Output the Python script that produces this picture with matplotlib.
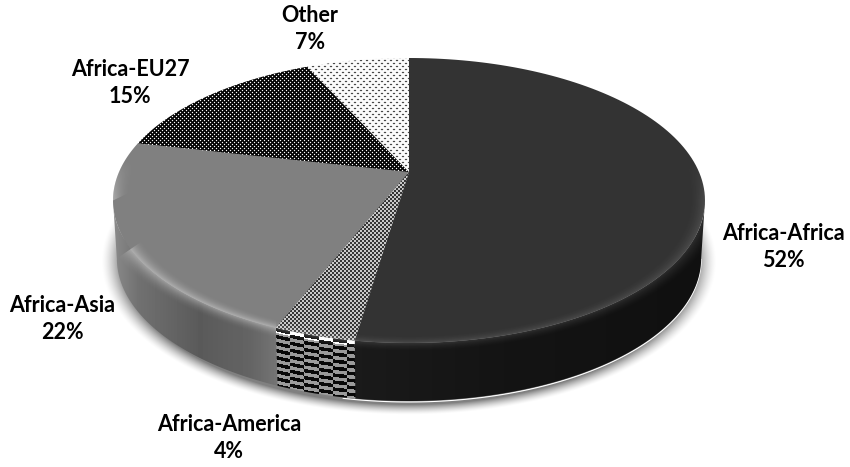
import numpy as np
import matplotlib
matplotlib.use('Agg')
import matplotlib.pyplot as plt
from matplotlib.patches import Polygon

labels = ['Africa-Africa', 'Africa-America', 'Africa-Asia', 'Africa-EU27', 'Other']
percent_labels = [52, 4, 22, 15, 7]
shares = [52.4, 3.7, 22.4, 14.7, 6.8]  # round to the labels
label_x = [783, 229, 62, 130, 310]
label_y = [247, 438, 319, 83, 29]

W, H = 850, 467
cx, apex_y = 409, 172
rx_p, ry_p, k = 290.0, 136.8, 0.2   # perspective of the disc
depth = 58

plt.rcParams['font.family'] = ['Lato', 'DejaVu Sans']
fig = plt.figure(figsize=(W / 100, H / 100), dpi=100)
ax = fig.add_axes([0, 0, 1, 1])
ax.axis('off')


def rim(t):
    # t in radians clockwise from the top of the disc
    X, Y = np.sin(t), np.cos(t)
    w = 1 + k * Y
    return cx + rx_p * X / w, apex_y - ry_p * Y / w


def wedge_poly(t1, t2):
    x, y = rim(np.linspace(t1, t2, 120))
    return np.column_stack([np.r_[cx, x], np.r_[apex_y, y]])


def side_poly(t1, t2):
    t = np.linspace(t1, t2, 200)
    x, y = rim(t)
    xb = cx + (x - cx) * 0.987
    return np.column_stack([np.r_[x, xb[::-1]], np.r_[y, y[::-1] + depth]])


def textured(grey, poly, zorder=3):
    im = ax.imshow(grey, extent=(0, W, H, 0), cmap='gray', vmin=0, vmax=255,
                   interpolation='bilinear', aspect='auto', zorder=zorder)
    im.set_clip_path(Polygon(poly, closed=True, transform=ax.transData))
    return im


def soften(a):
    # the source is a soft jpeg, take the edge off the pixel patterns
    b = (np.roll(a, 1, 0) + np.roll(a, -1, 0) + np.roll(a, 1, 1) + np.roll(a, -1, 1)) / 4
    return 0.65 * a + 0.35 * b


bounds = np.cumsum([0] + shares) / sum(shares) * 2 * np.pi
t0 = bounds[:-1]
t1 = bounds[1:]

xx, yy = np.meshgrid(np.arange(W) + 0.5, np.arange(H) + 0.5)
px, py = np.floor(xx).astype(int), np.floor(yy).astype(int)
ell_cx, ell_cy = cx, apex_y + ry_p * k / (1 - k * k)
ell_rx, ell_ry = rx_p / np.sqrt(1 - k * k), ry_p / (1 - k * k)

# soft shadow under the disc
q = np.hypot((xx - ell_cx) / (ell_rx + 6), (yy - ell_cy - depth - 3) / (ell_ry + 8))
shadow = np.zeros((H, W, 4))
shadow[..., 3] = np.clip((1.02 - q) / 0.07, 0, 1) ** 1.5 * 0.5
ax.imshow(shadow, extent=(0, W, H, 0), aspect='auto', zorder=1)

# front rim, left to right
t_front = np.linspace(2 * np.pi - np.arccos(-k), np.arccos(-k), 400)
fx, fy = rim(t_front)
order = np.argsort(fx)
top_at_x = np.interp(xx[0], fx[order], fy[order])
v = yy - top_at_x[None, :]

# side faces
side_grey = np.interp(xx, [113, 140, 200, 250, 280], [138, 112, 90, 100, 118])
b_america_l = rim(t1[1])[0]
b_america_r = rim(t0[1])[0]
right_part = xx >= b_america_r
side_grey[right_part] = np.interp(xx[right_part], [360, 500, 705], [26, 20, 16])
side_outline = side_poly(t_front[0], t_front[-1])
bottom_edge = side_outline[200:]
bottom_edge = bottom_edge[bottom_edge[:, 0] > 340]
ax.plot(bottom_edge[:, 0], bottom_edge[:, 1] + 1, color='white', lw=0.8, zorder=2)
textured(side_grey, side_outline)

# striped block on the America side, with white caps on the top row
col = np.floor((xx - b_america_l) / 14.3).astype(int)
phase = (v + 3.5 * (col % 2)) % 7
stripes = np.where(phase < 3.5, 8.0, 155.0)
stripes[(v < 5) & (stripes > 100)] = 255
textured(stripes, side_poly(t1[1], t0[1]), zorder=4)

# top faces
ax.add_patch(Polygon(wedge_poly(t0[0], t1[0]), closed=True, fc='#333333', ec='none', zorder=5))
ax.add_patch(Polygon(wedge_poly(t0[2], t1[2]), closed=True, fc='#808080', ec='none', zorder=5))

# fine checker on the America slice
check = ((px // 2 + py // 2) % 2) * 225.0 + 15
textured(soften(check), wedge_poly(t0[1], t1[1]), zorder=5)

# dotted slices, staggered rows
eu_dots = np.where((py % 2 == 0) & ((px + py) % 4 == 0), 255.0, 0.0)
eu_dots = soften(eu_dots) * 1.5
textured(np.clip(eu_dots, 0, 255), wedge_poly(t0[3], t1[3]), zorder=5)
other_dots = np.where((py % 3 == 0) & (((px + py) % 6 == 0) | ((px + py) % 6 == 1)), 10.0, 252.0)
textured(soften(other_dots), wedge_poly(t0[4], t1[4]), zorder=5)

# bevel along the front edge
r = np.hypot((xx - ell_cx) / ell_rx, (yy - ell_cy) / ell_ry)
inner = np.clip((r - 0.94) / 0.06, 0, 1) ** 2
inner[r > 1] = 0
outer = np.clip(1 - (r - 1) / 0.07, 0, 1) ** 2
outer[r <= 1] = 0
strength = np.where(xx < b_america_l, 0.36, np.where(xx > b_america_r, 0.12, 0.2))
fade = np.clip((yy - ell_cy + 40) / 40, 0, 1)
bevel = np.ones((H, W, 4))
bevel[..., 3] = np.maximum(inner, outer) * strength * fade
im = ax.imshow(bevel, extent=(0, W, H, 0), aspect='auto', interpolation='bilinear', zorder=6)
sil_x, sil_y = rim(np.linspace(0, 2 * np.pi, 500))
im.set_clip_path(Polygon(np.vstack([np.column_stack([sil_x, sil_y]), side_outline]),
                         closed=True, transform=ax.transData))
ax.set_xlim(0, W)
ax.set_ylim(H, 0)

for name, val, x, y in zip(labels, percent_labels, label_x, label_y):
    ax.text(x, y, '%s\n%d%%' % (name, val), ha='center', va='center', fontsize=15.5,
            fontweight='bold', color='black', linespacing=1.38, zorder=10)

fig.savefig('out.png', dpi=100)
